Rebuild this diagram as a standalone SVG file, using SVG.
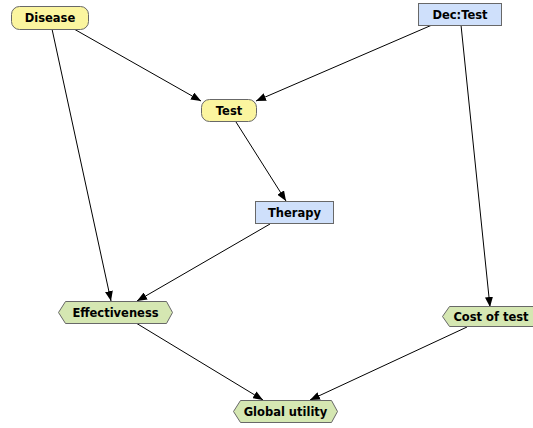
<svg xmlns="http://www.w3.org/2000/svg" width="533" height="428" viewBox="0 0 533 428">
  <style>
    .chance { fill: #fbf59f; stroke: #686868; stroke-width: 1; }
    .decision { fill: #cfe0fb; stroke: #686868; stroke-width: 1; }
    .utility { fill: #d5e7b2; stroke: #686868; stroke-width: 1; }
    .label { font-family: "DejaVu Sans", Verdana, sans-serif; font-weight: bold; font-size: 11.5px; fill: #000; text-anchor: middle; dominant-baseline: central; }
    .edge { stroke: #000; stroke-width: 1; fill: none; marker-end: url(#arrow); }
  </style>
  <defs>
    <marker id="arrow" viewBox="0 0 10 8" refX="10" refY="4" markerWidth="10" markerHeight="8" markerUnits="userSpaceOnUse" orient="auto">
      <path d="M0,0 L10,4 L0,8 Z" fill="#000"/>
    </marker>
  </defs>
  <rect width="533" height="428" fill="#fff"/>

  <g id="connectors">
    <line class="edge" x1="74" y1="29" x2="201" y2="101"/>
    <line class="edge" x1="432" y1="25" x2="256" y2="101"/>
    <line class="edge" x1="52" y1="29" x2="111" y2="301"/>
    <line class="edge" x1="236" y1="122" x2="286" y2="201"/>
    <line class="edge" x1="270" y1="224" x2="137" y2="301"/>
    <line class="edge" x1="461" y1="25" x2="490" y2="307"/>
    <line class="edge" x1="136" y1="323" x2="263" y2="400"/>
    <line class="edge" x1="467" y1="327" x2="310" y2="400"/>
  </g>

  <g id="disease">
    <rect class="chance" x="11.5" y="6.5" width="77" height="23" rx="8"/>
    <text class="label" x="50" y="18">Disease</text>
  </g>

  <g id="dec-test">
    <rect class="decision" x="418.5" y="3.5" width="83" height="22"/>
    <text class="label" x="460" y="14.5">Dec:Test</text>
  </g>

  <g id="test">
    <rect class="chance" x="201.5" y="99.5" width="55" height="22" rx="8"/>
    <text class="label" x="229" y="110.5">Test</text>
  </g>

  <g id="therapy">
    <rect class="decision" x="255.5" y="201.5" width="78" height="22"/>
    <text class="label" x="294.5" y="212.5">Therapy</text>
  </g>

  <g id="effectiveness">
    <polygon class="utility" points="65.5,301.5 166.5,301.5 172.5,312.5 166.5,323.5 65.5,323.5 58.5,312.5"/>
    <text class="label" x="115.5" y="312.5">Effectiveness</text>
  </g>

  <g id="cost-of-test">
    <polygon class="utility" points="449.5,306.5 540.5,306.5 546.5,316.5 540.5,326.5 449.5,326.5 442.5,316.5"/>
    <text class="label" x="491" y="316.5">Cost of test</text>
  </g>

  <g id="global-utility">
    <polygon class="utility" points="240.5,400.5 331.5,400.5 337.5,411.5 331.5,422.5 240.5,422.5 233.5,411.5"/>
    <text class="label" x="285.5" y="411.5">Global utility</text>
  </g>
</svg>
